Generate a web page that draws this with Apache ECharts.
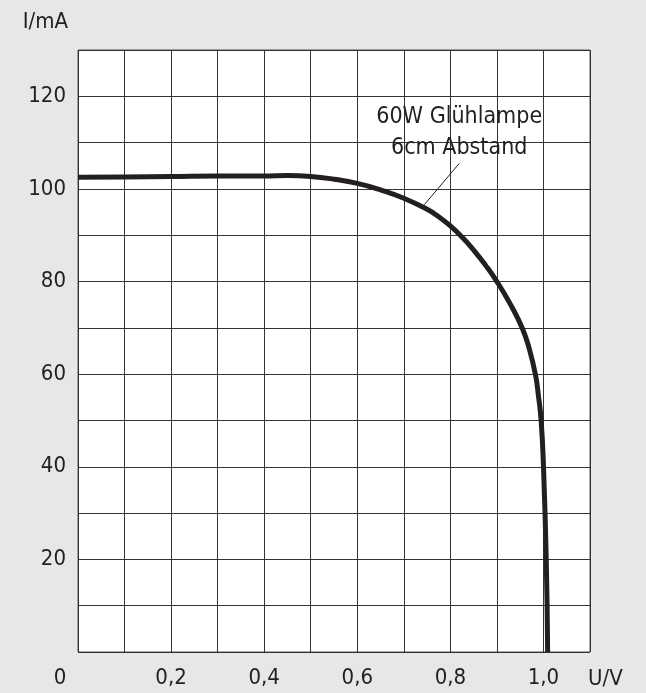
<!DOCTYPE html>
<html>
<head>
<meta charset="utf-8">
<script src="https://cdn.jsdelivr.net/npm/echarts@6/dist/echarts.min.js"></script>
<style>
  html, body { margin: 0; padding: 0; background: #e6e7e8; }
  #chart { width: 646px; height: 693px; }
</style>
</head>
<body>
<div id="chart"></div>
<script>
// Solar cell I-U characteristic, 60 W lamp at 6 cm distance
const voltage = [0, 0.1, 0.2, 0.3, 0.4, 0.45, 0.5, 0.55, 0.6, 0.65, 0.7, 0.75, 0.775, 0.8, 0.825, 0.85, 0.875, 0.9, 0.93, 0.955, 0.97, 0.983, 0.989, 0.995, 1.0, 1.006, 1.009];
const current = [102.5, 102.6, 102.7, 102.8, 102.8, 102.9, 102.7, 102.1, 101.2, 99.8, 98.0, 95.6, 94.0, 92.0, 89.6, 86.8, 83.6, 80.0, 74.9, 69.8, 65.3, 59.8, 55.5, 50.0, 40.2, 20.0, 0];

const curveLabel = '60W Glühlampe\n6cm Abstand';
const labelAnchor = [0.819, 112.2];
const leaderLine = [[0.819, 105.5], [0.744, 96.6]];

const xTicks = [0.2, 0.4, 0.6, 0.8, 1.0];
const yTicks = [20, 40, 60, 80, 100, 120];

const FONT = '"Liberation Sans Narrow", "DejaVu Sans Condensed", "Liberation Sans", sans-serif';
const INK = '#231f20';

const chart = echarts.init(document.getElementById('chart'));
chart.setOption({
  backgroundColor: '#e6e7e8',
  animation: false,
  textStyle: { fontFamily: FONT },
  grid: {
    left: 78, right: 56, top: 50, bottom: 41,
    show: true, backgroundColor: '#ffffff', borderColor: '#555', borderWidth: 1
  },
  xAxis: {
    type: 'value', min: 0, max: 1.1, interval: 0.1,
    name: 'U/V', nameLocation: 'end', nameGap: -2,
    nameTextStyle: { color: INK, fontSize: 22, fontFamily: FONT, verticalAlign: 'top', align: 'left', padding: [16, 0, 0, 0] },
    axisLine: { show: false },
    axisTick: { show: false },
    splitLine: { show: true, lineStyle: { color: '#333', width: 1 } },
    axisLabel: {
      color: INK, fontSize: 22, fontFamily: FONT, margin: 15,
      showMaxLabel: false,
      formatter: function (v) {
        const t = Math.round(v * 10) / 10;
        if (t === 0) return '{z|0}';
        if (xTicks.some(x => Math.abs(x - t) < 1e-6)) return t.toFixed(1).replace('.', ',');
        return '';
      },
      rich: { z: { fontSize: 22, fontFamily: FONT, color: INK, padding: [0, 36, 0, 0] } }
    }
  },
  yAxis: {
    type: 'value', min: 0, max: 130, interval: 10,
    name: 'I/mA', nameLocation: 'end', nameGap: 28,
    nameTextStyle: { color: INK, fontSize: 22, fontFamily: FONT, align: 'right', verticalAlign: 'middle', padding: [0, 10, 0, 0] },
    axisLine: { show: false },
    axisTick: { show: false },
    splitLine: { show: true, lineStyle: { color: '#333', width: 1 } },
    axisLabel: {
      color: INK, fontSize: 22, fontFamily: FONT, margin: 12,
      formatter: function (v) { return yTicks.indexOf(v) >= 0 ? String(v) : ''; }
    }
  },
  series: [
    {
      type: 'line',
      data: voltage.map((u, i) => [u, current[i]]),
      smooth: 0.5,
      symbol: 'none',
      lineStyle: { color: INK, width: 5 },
      z: 5
    },
    {
      type: 'line',
      data: leaderLine,
      symbol: 'none',
      lineStyle: { color: INK, width: 1 },
      z: 4
    },
    {
      type: 'scatter',
      data: [labelAnchor],
      symbolSize: 0,
      itemStyle: { opacity: 1 },
      label: {
        show: true, position: 'inside', formatter: curveLabel, opacity: 1,
        color: INK, fontSize: 23, fontFamily: FONT, lineHeight: 31, align: 'center'
      },
      z: 6
    }
  ]
});
</script>
</body>
</html>
